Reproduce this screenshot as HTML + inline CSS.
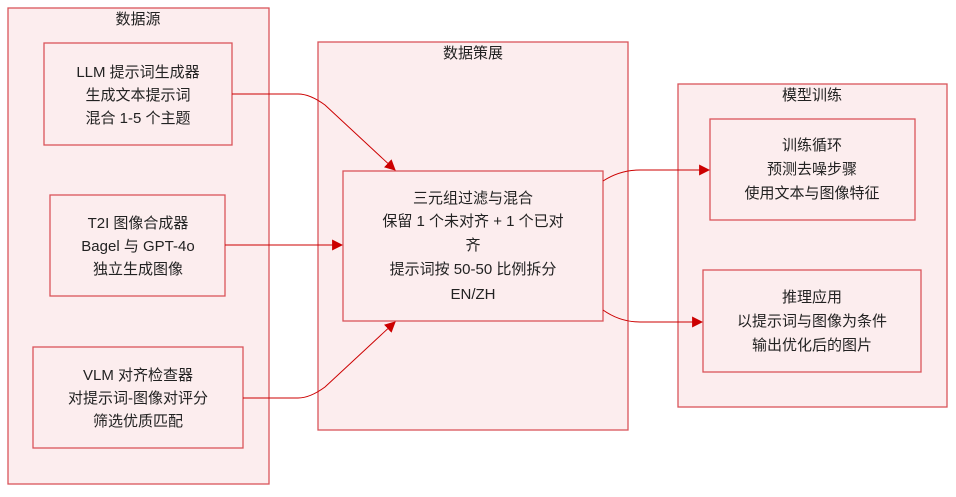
<!DOCTYPE html>
<html><head><meta charset="utf-8"><style>
html,body{margin:0;padding:0;background:#fff;}
svg text{font-family:"Liberation Sans","Noto Sans CJK SC",sans-serif;font-size:15px;fill:#222;text-anchor:middle;}
</style></head><body>
<svg width="956" height="492" viewBox="0 0 956 492" xmlns="http://www.w3.org/2000/svg">
<defs><marker id="a" viewBox="0 0 10 10" refX="9" refY="5" markerWidth="11" markerHeight="11" markerUnits="userSpaceOnUse" orient="auto"><path d="M0,0L10,5L0,10z" fill="#cc0000"/></marker></defs>
<g fill="#fcedee" stroke="#d9545a" stroke-width="1.3">
<rect x="8" y="8" width="261" height="476"/>
<rect x="318" y="42" width="310" height="388"/>
<rect x="678" y="84" width="269" height="323"/>
<rect x="44" y="43" width="188" height="102"/>
<rect x="50" y="195" width="175" height="101"/>
<rect x="33" y="347" width="210" height="101"/>
<rect x="343" y="171" width="260" height="150"/>
<rect x="710" y="119" width="205" height="101"/>
<rect x="703" y="270" width="218" height="102"/>
</g>
<g fill="none" stroke="#cc0000" stroke-width="1">
<path d="M232,94 L298,94 Q310,94 325,105 L395,170" marker-end="url(#a)"/>
<path d="M225,245 L342,245" marker-end="url(#a)"/>
<path d="M243,398 L298,398 Q310,398 325,387 L395,322" marker-end="url(#a)"/>
<path d="M603,181 Q620,170 640,170 L709,170" marker-end="url(#a)"/>
<path d="M603,310 Q620,322 640,322 L702,322" marker-end="url(#a)"/>
</g>
<text x="138" y="24">数据源</text>
<text x="473" y="58">数据策展</text>
<text x="812" y="100">模型训练</text>
<text x="138" y="77">LLM 提示词生成器</text>
<text x="138" y="100">生成文本提示词</text>
<text x="138" y="123">混合 1-5 个主题</text>
<text x="138" y="228">T2I 图像合成器</text>
<text x="138" y="251">Bagel 与 GPT-4o</text>
<text x="138" y="274">独立生成图像</text>
<text x="138" y="380">VLM 对齐检查器</text>
<text x="138" y="403">对提示词-图像对评分</text>
<text x="138" y="426">筛选优质匹配</text>
<text x="473" y="203">三元组过滤与混合</text>
<text x="473" y="226">保留 1 个未对齐 + 1 个已对</text>
<text x="473" y="250">齐</text>
<text x="473" y="274">提示词按 50-50 比例拆分</text>
<text x="473" y="299">EN/ZH</text>
<text x="812" y="150">训练循环</text>
<text x="812" y="174">预测去噪步骤</text>
<text x="812" y="198">使用文本与图像特征</text>
<text x="812" y="302">推理应用</text>
<text x="812" y="326">以提示词与图像为条件</text>
<text x="812" y="350">输出优化后的图片</text>
</svg>
</body></html>
